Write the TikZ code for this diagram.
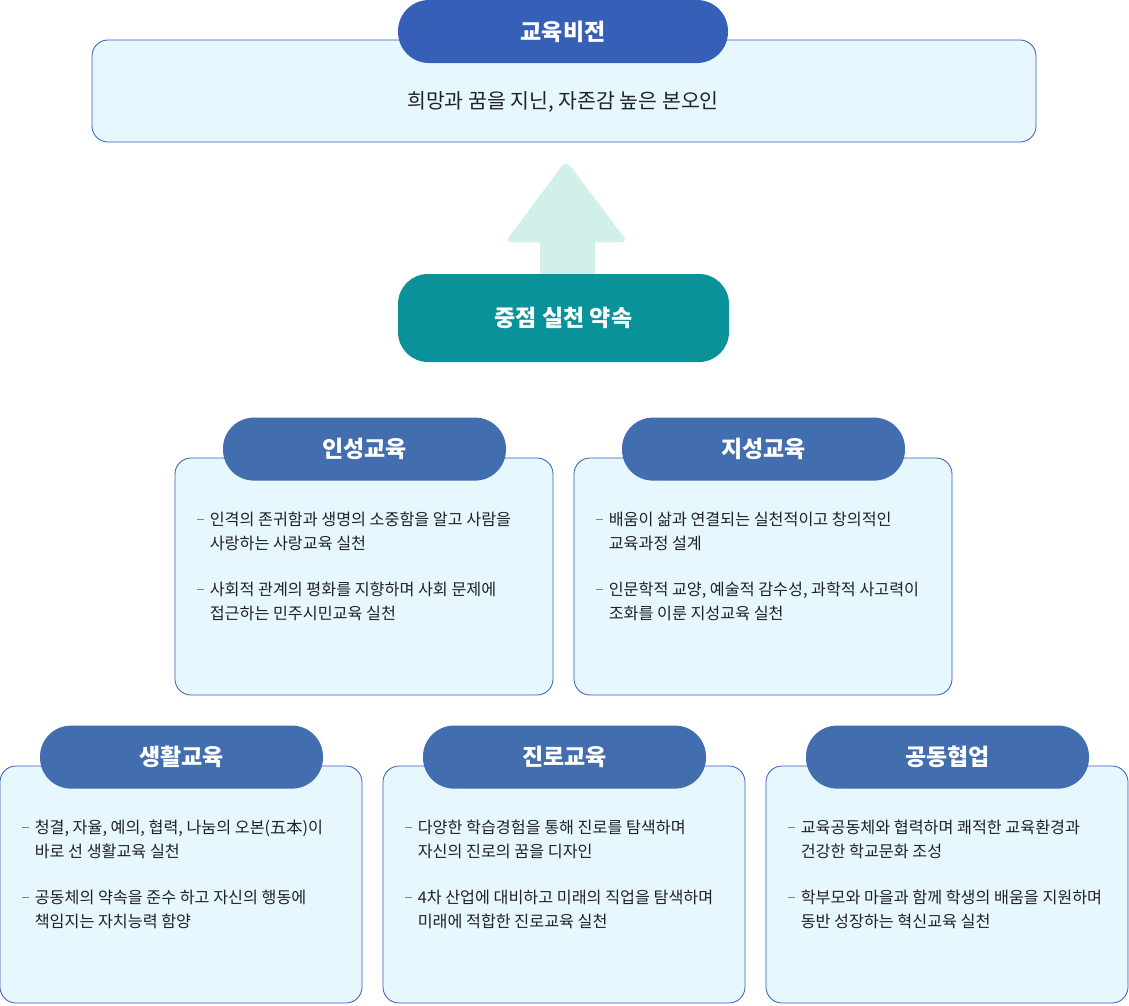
\documentclass[tikz,border=0pt]{standalone}
\usepackage{fontspec}
\setmainfont{Noto Sans CJK KR}
\usepackage{xcolor}
\definecolor{vblue}{RGB}{54,96,184}
\definecolor{pblue}{RGB}{66,109,174}
\definecolor{pteal}{RGB}{9,146,153}
\definecolor{cfill}{RGB}{230,248,254}
\definecolor{cline}{RGB}{55,90,185}
\definecolor{arrowc}{RGB}{210,240,234}
\definecolor{dashc}{RGB}{110,140,150}
\definecolor{tdark}{RGB}{34,34,34}
\usepackage{tikz}
\usetikzlibrary{positioning,calc}
\newcommand{\bitem}[2]{\begin{tabular}[t]{@{}l@{\hspace{6pt}}l@{}}\textcolor{dashc}{\rule[5.2pt]{7pt}{1.6pt}}&#1\\&#2\end{tabular}}

\begin{document}
\begin{tikzpicture}[x=1pt,y=-1pt,
  card/.style={rectangle,draw=cline,fill=cfill,rounded corners=16pt,line width=0.8pt,minimum width=378pt,minimum height=237pt,inner sep=0pt},
  pill/.style={rectangle,fill=pblue,rounded corners=31pt,minimum width=283pt,minimum height=63pt,text=white,font=\bfseries\fontsize{23}{26}\selectfont},
  items/.style={anchor=base west,inner sep=0pt,text=tdark,font=\fontsize{16.2}{24}\selectfont}
]
  \useasboundingbox (0,0) rectangle (1129,1005);

  % vision
  \node[card,minimum width=944pt,minimum height=102pt] (vis) at (564,91) {};
  \node[pill,fill=vblue,minimum width=330pt] (vtitle) at (563,31.5) {교육비전};
  \node[inner sep=0pt,text=tdark,font=\fontsize{20.5}{24}\selectfont] (vtext) at (563,102) {희망과 꿈을 지닌, 자존감 높은 본오인};

  % arrow
  \fill[arrowc,rounded corners=7pt] ($(vis.south)+(2,18)$) -- ($(vis.south)+(-59,100)$) -- ($(vis.south)+(64,100)$) -- cycle;
  \fill[arrowc] ($(vis.south)+(-24,94)$) rectangle ($(vis.south)+(31,150)$);
  \node[pill,fill=pteal,minimum width=331pt,minimum height=88pt,rounded corners=30pt] (promise) at (563.5,318) {중점 실천 약속};

  % middle row
  \node[card] (ins) at (364,576.5) {};
  \node[card] (ji) at (763,576.5) {};
  \node[pill] (insT) at ($(ins.north)+(0.5,-8.5)$) {인성교육};
  \node[pill] (jiT) at ($(ji.north)+(0.5,-8.5)$) {지성교육};
  \node[items] (ins1) at ($(ins.north west)+(22,68)$) {\bitem{인격의 존귀함과 생명의 소중함을 알고 사람을}{사랑하는 사랑교육 실천}};
  \node[items] (ins2) at ($(ins.north west)+(22,138)$) {\bitem{사회적 관계의 평화를 지향하며 사회 문제에}{접근하는 민주시민교육 실천}};
  \node[items] (ji1) at ($(ji.north west)+(22,68)$) {\bitem{배움이 삶과 연결되는 실천적이고 창의적인}{교육과정 설계}};
  \node[items] (ji2) at ($(ji.north west)+(22,138)$) {\bitem{인문학적 교양, 예술적 감수성, 과학적 사고력이}{조화를 이룬 지성교육 실천}};

  % bottom row
  \node[card,minimum width=362pt] (life) at (181,884.5) {};
  \node[card,minimum width=362pt] (car) at (564,884.5) {};
  \node[card,minimum width=362pt] (co) at (947,884.5) {};
  \node[pill] (lifeT) at ($(life.north)+(0.5,-8.5)$) {생활교육};
  \node[pill] (carT) at ($(car.north)+(0.5,-8.5)$) {진로교육};
  \node[pill] (coT) at ($(co.north)+(0.5,-8.5)$) {공동협업};
  \node[items] (life1) at ($(life.north west)+(22,68)$) {\bitem{청결, 자율, 예의, 협력, 나눔의 오본(五本)이}{바로 선 생활교육 실천}};
  \node[items] (life2) at ($(life.north west)+(22,138)$) {\bitem{공동체의 약속을 준수 하고 자신의 행동에}{책임지는 자치능력 함양}};
  \node[items] (car1) at ($(car.north west)+(22,68)$) {\bitem{다양한 학습경험을 통해 진로를 탐색하며}{자신의 진로의 꿈을 디자인}};
  \node[items] (car2) at ($(car.north west)+(22,138)$) {\bitem{4차 산업에 대비하고 미래의 직업을 탐색하며}{미래에 적합한 진로교육 실천}};
  \node[items] (co1) at ($(co.north west)+(22,68)$) {\bitem{교육공동체와 협력하며 쾌적한 교육환경과}{건강한 학교문화 조성}};
  \node[items] (co2) at ($(co.north west)+(22,138)$) {\bitem{학부모와 마을과 함께 학생의 배움을 지원하며}{동반 성장하는 혁신교육 실천}};
\end{tikzpicture}
\end{document}
